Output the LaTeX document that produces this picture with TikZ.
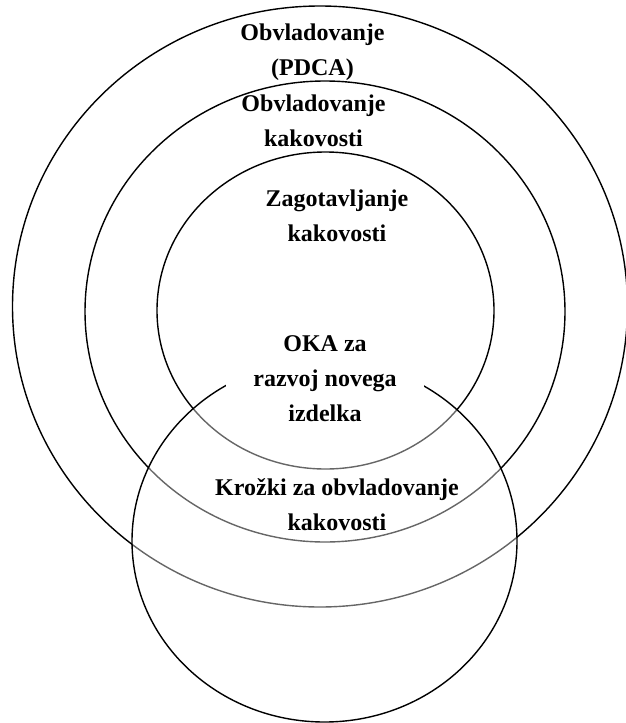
\documentclass[tikz,border=0pt]{standalone}
\usepackage{fontspec}
\setmainfont{Liberation Serif}
\begin{document}
\begin{tikzpicture}[x=1pt,y=-1pt,
  ring/.style={draw=black, line width=1.4pt},
  lbl/.style={font=\fontsize{24}{35}\selectfont\bfseries, align=center, inner sep=0pt, anchor=base}]
\useasboundingbox (0,0) rectangle (626,723);
\draw[ring] (320,306.5) ellipse [x radius=307.5pt, y radius=300.5pt];
\draw[ring] (325,311.5) ellipse [x radius=240pt, y radius=230.5pt];
\draw[ring] (325.5,310.5) ellipse [x radius=168.5pt, y radius=158.5pt];
\draw[ring, fill=white, fill opacity=0.4] (324.5,541) ellipse [x radius=192.5pt, y radius=181pt];
\node[lbl] (pdca) at (312.5,75) {Obvladovanje\\(PDCA)};
\node[lbl] (obv) at (313.5,146.7) {Obvladovanje\\kakovosti};
\node[lbl] (zag) at (337,241.7) {Zagotavljanje\\kakovosti};
\node[lbl, fill=white, inner xsep=27pt, inner ysep=4pt] (oka) at (325,421) {OKA za\\razvoj novega\\izdelka};
\node[lbl] (kro) at (337,530) {Krožki za obvladovanje\\kakovosti};
\end{tikzpicture}
\end{document}
